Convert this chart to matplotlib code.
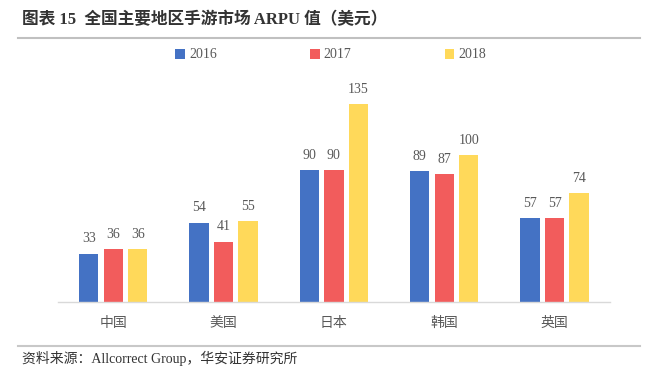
import matplotlib.pyplot as plt
import numpy as np

plt.rcParams['font.family'] = ['Liberation Serif', 'Noto Sans CJK SC', 'DejaVu Sans']

# Data
regions = ['中国', '美国', '日本', '韩国', '英国']
years = ['2016', '2017', '2018']
arpu_2016 = [33, 54, 90, 89, 57]
arpu_2017 = [36, 41, 90, 87, 57]
arpu_2018 = [36, 55, 135, 100, 74]

colors = ['#4472C4', '#F25C5C', '#FFD95A']
series = [arpu_2016, arpu_2017, arpu_2018]

fig = plt.figure(figsize=(6.46, 3.71), dpi=100)
ax = fig.add_axes([0.0898, 0.186, 0.854, 0.625])

x = np.arange(len(regions))
width = 0.175
step = 0.222
for i, (vals, c, yr) in enumerate(zip(series, colors, years)):
    pos = x + (i - 1) * step
    bars = ax.bar(pos, vals, width, color=c, label=yr, zorder=2)
    for b, v in zip(bars, vals):
        ax.annotate(str(v), (b.get_x() + b.get_width() / 2, v),
                    xytext=(0, 6), textcoords='offset points',
                    ha='center', va='bottom', fontsize=10, color='#595959')

ax.set_xlim(-0.5, 4.5)
ax.set_ylim(0, 158)
ax.set_yticks([])
ax.set_xticks(x)
ax.set_xticklabels(regions, fontsize=10, color='#595959')
ax.tick_params(axis='x', length=0, pad=11)
for s in ['top', 'right', 'left']:
    ax.spines[s].set_visible(False)
ax.spines['bottom'].set_color('#D9D9D9')
ax.spines['bottom'].set_linewidth(1)

fig.legend(loc='center', bbox_to_anchor=(0.512, 1 - 55 / 371), ncol=3,
           frameon=False, fontsize=10, handlelength=0.7, handleheight=0.7,
           handletextpad=0.3, columnspacing=6.7, labelcolor='#595959')

# Title, rules and source note
fig.text(22 / 646, 1 - 20 / 371, '图表 15  全国主要地区手游市场 ARPU 值（美元）',
         fontsize=12, fontweight='bold', color='#333333', va='center', ha='left')
fig.add_artist(plt.Line2D([18 / 646, 640 / 646], [1 - 38 / 371, 1 - 38 / 371],
                          color='#C0C0C0', linewidth=1.5))
fig.add_artist(plt.Line2D([18 / 646, 640 / 646], [1 - 346 / 371, 1 - 346 / 371],
                          color='#C8C8C8', linewidth=1.5))
fig.text(22 / 646, 1 - 358 / 371, '资料来源：Allcorrect Group，华安证券研究所',
         fontsize=10, color='#333333', va='center', ha='left')

fig.savefig('out.png', dpi=100)
